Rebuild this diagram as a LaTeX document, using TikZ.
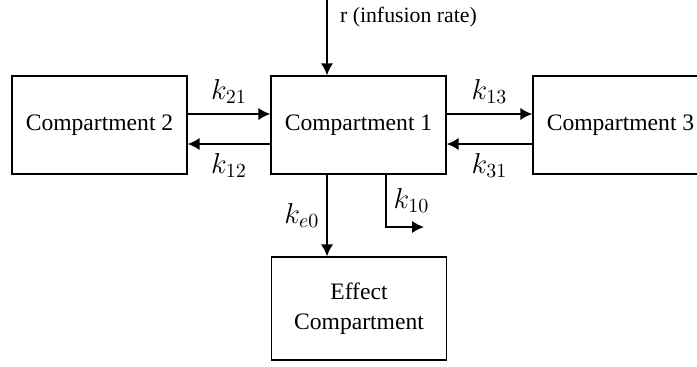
\documentclass[tikz,border=0pt]{standalone}
\usepackage{fontspec}
\setmainfont{Liberation Serif}
\usepackage{tikz}
\usetikzlibrary{calc, arrows.meta}

\tikzset{
    comp/.style={draw, line width=0.65pt, minimum width=87.5pt, minimum height=49pt,
        inner sep=0pt, align=center, font=\fontsize{11.8}{15}\selectfont},
    flow/.style={->, line width=1pt},
    rate/.style={font=\fontsize{14.5}{16}\selectfont}
}

\begin{document}
\begin{tikzpicture}[>={Latex[length=6pt,width=6.2pt]}, x=0.5pt, y=-0.5pt]
            \useasboundingbox (0,0) rectangle (697,366);

            % 1. Các ngăn
            \node[comp] (c2) at (99.5,125) {Compartment 2};
            \node[comp] (c1) at (358.5,125) {Compartment 1};
            \node[comp] (c3) at (620.5,125) {Compartment 3};
            \node[comp, minimum height=51.5pt] (ce) at (359,308.5) {Effect\\Compartment};

            % 2. Truyền vào
            \coordinate (rin) at (327,0);
            \draw[flow] (rin) -- (rin |- c1.north);
            \node[anchor=west, font=\fontsize{10.9}{13}\selectfont] (rlab) at (333,17) {r (infusion rate)};

            % 3. Trao đổi giữa các ngăn
            \draw[flow] ([yshift=5.5pt]c2.east) -- node[rate, above=1.5pt] {$k_{21}$} ([yshift=5.5pt]c1.west);
            \draw[flow] ([yshift=-9.5pt]c1.west) -- node[rate, below=1pt] {$k_{12}$} ([yshift=-9.5pt]c2.east);
            \draw[flow] ([yshift=5.5pt]c1.east) -- node[rate, above=1.5pt] {$k_{13}$} ([yshift=5.5pt]c3.west);
            \draw[flow] ([yshift=-9.5pt]c3.west) -- node[rate, below=1pt] {$k_{31}$} ([yshift=-9.5pt]c1.east);

            % 4. Thải trừ
            \draw[flow] (rin |- c1.south) -- node[rate, left] {$k_{e0}$} (rin |- ce.north);
            \coordinate (kcol) at (386,0);
            \coordinate (kout) at (424,227);
            \draw[flow] (kcol |- c1.south) |- node[rate, pos=0.25, right] {$k_{10}$} (kout);
        \end{tikzpicture}
\end{document}
